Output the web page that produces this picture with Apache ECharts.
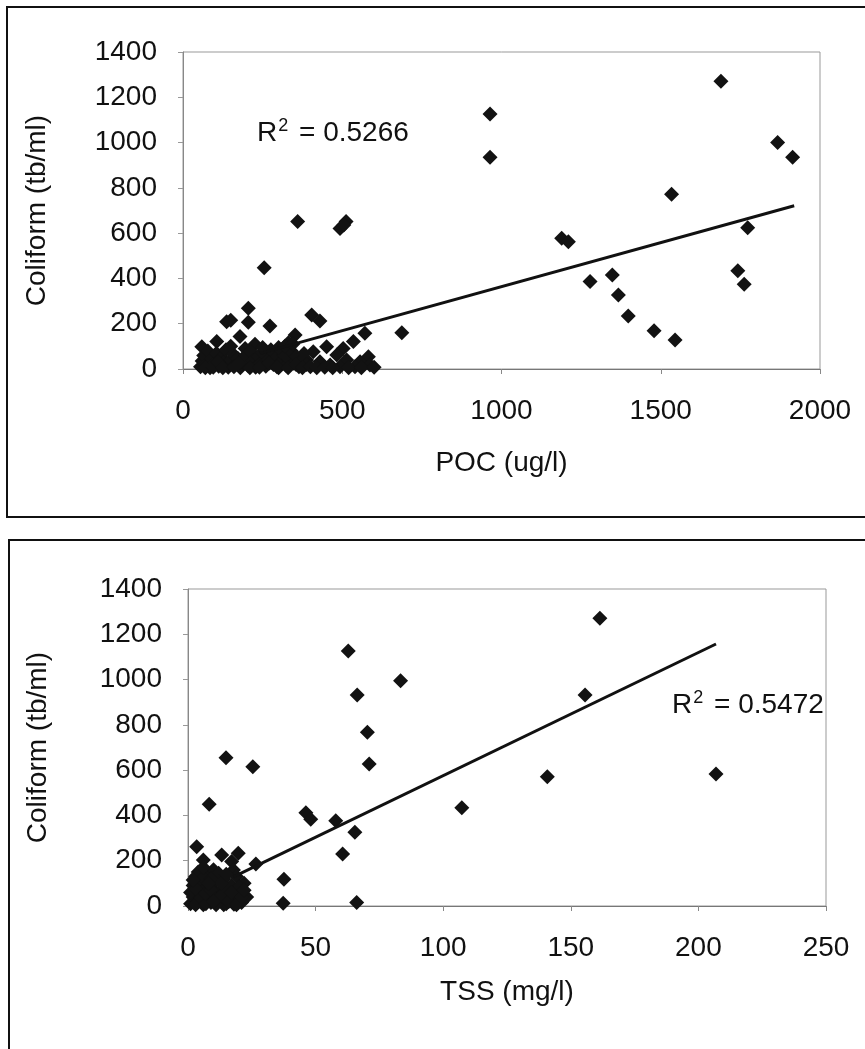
<!DOCTYPE html>
<html>
<head>
<meta charset="utf-8">
<script src="https://cdn.jsdelivr.net/npm/echarts@6/dist/echarts.min.js"></script>
<style>
html,body{margin:0;padding:0;background:#fff;}
#c{width:865px;height:1049px;}
</style>
</head>
<body>
<div id="c"></div>
<script>
// ---- Data ----
const yTicks = [0, 200, 400, 600, 800, 1000, 1200, 1400];
const pocTicks = [0, 500, 1000, 1500, 2000];
const tssTicks = [0, 50, 100, 150, 200, 250];

// Top panel: POC (ug/l) vs Coliform (tb/ml)
const pocPoints = [
  [964,1126],[964,935],[1689,1271],[1867,1000],[1914,935],[1534,772],[1189,577],[1210,562],
  [1773,624],[1278,386],[1348,415],[1367,327],[1398,234],[1479,169],[1545,128],[1742,434],[1762,374],
  [360,651],[493,621],[512,651],[505,636],[255,447],
  [205,268],[137,209],[150,215],[205,206],[273,190],[404,238],[430,212],[571,158],[535,121],[352,150],
  [331,116],[179,143],[106,121],[59,98],[226,109],[195,91],[451,98],[503,91],[582,54],[556,32],
  [587,18],[514,40],[483,62],[409,76],[388,40],[430,32],[462,18],[540,10],[493,10],[687,160],
  [55,10],[60,35],[65,60],[72,20],[78,80],[85,5],[90,45],[98,25],[105,70],[112,12],[120,50],
  [128,30],[135,85],[142,8],[150,40],[158,65],[165,20],[172,48],[180,5],[188,30],[196,60],
  [204,15],[212,78],[220,38],[228,8],[236,55],[244,25],[252,70],[260,12],[268,42],[276,85],
  [284,20],[292,50],[300,5],[308,32],[316,62],[324,15],[332,45],[340,80],[348,25],[356,55],
  [364,10],[372,38],[380,68],[388,20],[300,95],[320,100],[345,110],[250,95],[150,100],
  [70,5],[95,8],[110,30],[125,5],[160,10],[175,25],[210,5],[240,8],[270,25],[295,10],
  [330,5],[355,20],[375,5],[400,10],[420,5],[445,8],[470,5],[520,5],[560,5],[600,8]
];
const pocTrend = [[242,69],[1919,721]];
const pocR2 = '0.5266';

// Bottom panel: TSS (mg/l) vs Coliform (tb/ml)
const tssPoints = [
  [62.8,1126],[83.3,995],[66.3,932],[70.3,767],[71,627],[14.9,655],[25.4,615],[8.3,449],
  [46.2,412],[48.1,383],[57.9,377],[65.4,326],[60.6,230],[37.6,118],[37.3,12],[66.1,15],[26.6,186],
  [161.4,1271],[155.6,932],[140.8,571],[206.9,583],[107.3,434],
  [3.4,262],[6,203],[13.2,225],[19.7,233],[17.1,196],[17.8,159],
  [1,10],[2,40],[2,90],[3,130],[4,20],[5,60],[5,110],[6,5],[7,80],[8,35],[8,140],[9,15],
  [10,100],[11,55],[12,25],[13,70],[14,120],[15,10],[16,45],[17,90],[18,30],[19,130],[20,60],
  [21,15],[22,100],[23,40],[4,150],[10,160],[14,5],[6,125],[12,145],[18,8],[20,85],
  [1,60],[3,5],[3,75],[5,35],[7,10],[7,55],[9,120],[9,70],[11,5],[11,30],[13,45],[15,85],
  [16,20],[17,60],[19,5],[21,40],[22,70],[2,115],[6,170],[13,100],[15,140],[8,100],[10,20]
];
const tssTrend = [[17.8,129],[206.9,1157]];
const tssR2 = '0.5472';

// ---- Chart ----
const FONT = '"Liberation Sans", Arial, sans-serif';
const chart = echarts.init(document.getElementById('c'), null, {renderer: 'canvas'});
const plain = v => String(v);

function xAxisCfg(grid, name, max, interval, nameGap) {
  return {
    type: 'value', gridIndex: grid, min: 0, max: max, interval: interval,
    name: name, nameLocation: 'middle', nameGap: nameGap,
    nameTextStyle: {fontFamily: FONT, fontSize: 28, color: '#111'},
    axisLine: {show: true, lineStyle: {color: '#777', width: 1}},
    axisTick: {show: true, length: 5, lineStyle: {color: '#888'}},
    axisLabel: {fontFamily: FONT, fontSize: 28, color: '#111', margin: 28, formatter: plain},
    splitLine: {show: false}
  };
}
function yAxisCfg(grid, nameGap) {
  return {
    type: 'value', gridIndex: grid, min: 0, max: 1400, interval: 200,
    name: 'Coliform (tb/ml)', nameLocation: 'middle', nameGap: nameGap,
    nameTextStyle: {fontFamily: FONT, fontSize: 28, color: '#111'},
    axisLine: {show: true, lineStyle: {color: '#888', width: 1}},
    axisTick: {show: true, length: 5, lineStyle: {color: '#999'}},
    axisLabel: {fontFamily: FONT, fontSize: 28, color: '#111', margin: 26, formatter: plain},
    splitLine: {show: false}
  };
}
const r2Rich = {
  r: {fontFamily: FONT, fontSize: 28, fontWeight: 'normal', color: '#111', lineHeight: 32},
  s: {fontFamily: FONT, fontSize: 18, fontWeight: 'normal', color: '#111', verticalAlign: 'top', lineHeight: 32, padding: [0, 3, 14, 1]}
};

chart.setOption({
  animation: false,
  backgroundColor: '#fff',
  graphic: [
    {type: 'rect', shape: {x: 7, y: 7, width: 870, height: 510}, style: {fill: 'none', stroke: '#111', lineWidth: 2}},
    {type: 'rect', shape: {x: 9, y: 540, width: 870, height: 540}, style: {fill: 'none', stroke: '#111', lineWidth: 2}}
  ],
  title: [
    {left: 252, top: 112, text: '{r|R}{s|2}{r| = ' + pocR2 + '}', textStyle: {fontWeight: 'normal', rich: r2Rich}},
    {left: 667, top: 684, text: '{r|R}{s|2}{r| = ' + tssR2 + '}', textStyle: {fontWeight: 'normal', rich: r2Rich}}
  ],
  grid: [
    {left: 183, top: 52, width: 637, height: 317, show: true, borderColor: '#999', borderWidth: 1, backgroundColor: 'transparent'},
    {left: 188, top: 589, width: 638, height: 317, show: true, borderColor: '#999', borderWidth: 1, backgroundColor: 'transparent'}
  ],
  xAxis: [
    xAxisCfg(0, 'POC (ug/l)', 2000, 500, 80),
    xAxisCfg(1, 'TSS (mg/l)', 250, 50, 72)
  ],
  yAxis: [yAxisCfg(0, 132), yAxisCfg(1, 136)],
  series: [
    {type: 'scatter', xAxisIndex: 0, yAxisIndex: 0, data: pocPoints, symbol: 'diamond', symbolSize: 15,
     itemStyle: {color: '#121212', opacity: 1}},
    {type: 'line', xAxisIndex: 0, yAxisIndex: 0, data: pocTrend, showSymbol: false, symbol: 'none',
     lineStyle: {color: '#111', width: 3}, z: 3},
    {type: 'scatter', xAxisIndex: 1, yAxisIndex: 1, data: tssPoints, symbol: 'diamond', symbolSize: 15,
     itemStyle: {color: '#121212', opacity: 1}},
    {type: 'line', xAxisIndex: 1, yAxisIndex: 1, data: tssTrend, showSymbol: false, symbol: 'none',
     lineStyle: {color: '#111', width: 3}, z: 3}
  ]
});
</script>
</body>
</html>
